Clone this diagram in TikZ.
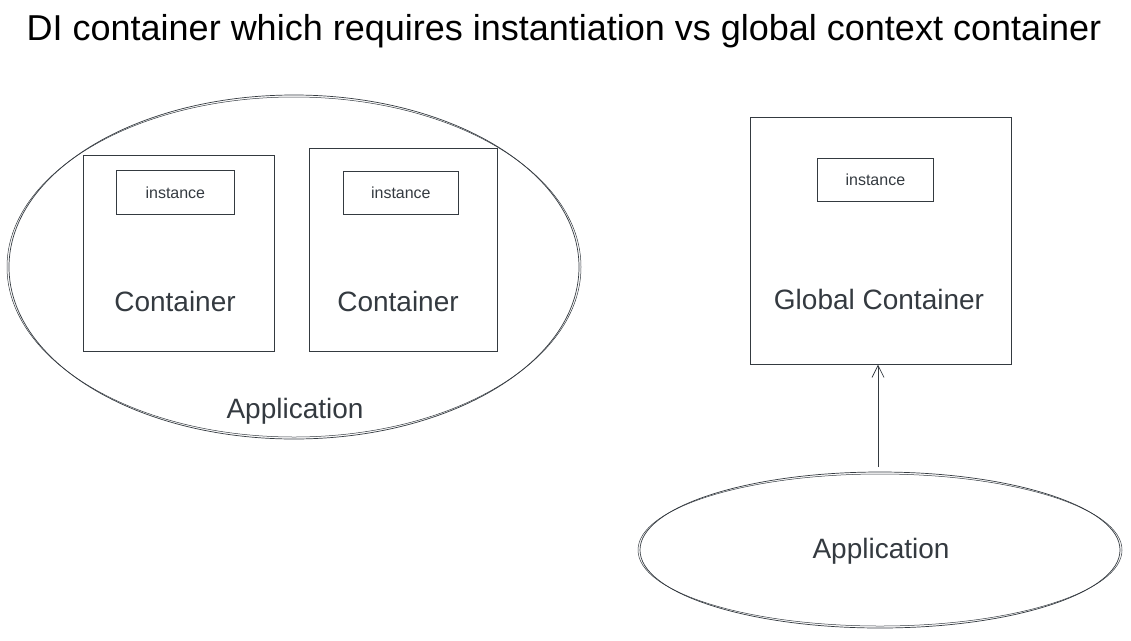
\documentclass[tikz,border=0pt]{standalone}
\usepackage{fontspec}
\setmainfont{Liberation Sans}
\usetikzlibrary{arrows.meta,shapes.geometric}
\definecolor{ink}{HTML}{343A40}
\begin{document}
\begin{tikzpicture}[x=1pt,y=-1pt,
  sk/.style={draw=ink,line width=0.7pt},
  box/.style={sk,rectangle,inner sep=0pt,anchor=north west},
  lbl/.style={text=ink,font=\fontsize{28}{32}\selectfont},
  ilbl/.style={text=ink,font=\fontsize{16}{19}\selectfont}]
\useasboundingbox (0,0) rectangle (1131,640);
\node[font=\fontsize{36}{40}\selectfont] (title) at (564,31) {DI container which requires instantiation vs global context container};
% left
\node[sk,ellipse,inner sep=0pt,minimum width=570,minimum height=344] (app1) at (294,267) {};
\draw[ink,line width=0.5pt] (294,267) ellipse [x radius=287,y radius=170];
\node[box,minimum width=191,minimum height=196] (c1) at (83,155) {};
\node[box,minimum width=188,minimum height=203] (c2) at (309,148) {};
\node[box,minimum width=118,minimum height=44] (i1) at (116,170) {};
\node[box,minimum width=115,minimum height=43] (i2) at (343,171) {};
\node[ilbl] at (i1.center) {instance};
\node[ilbl] at (i2.center) {instance};
\node[lbl] at (175,301) {Container};
\node[lbl] at (398,301) {Container};
\node[lbl] at (295,411) {Application};
% right
\node[box,minimum width=261,minimum height=247] (g) at (750,117) {};
\node[box,minimum width=116,minimum height=43] (i3) at (817,158) {};
\node[ilbl] at (i3.center) {instance};
\node[lbl] at (879,299) {Global Container};
\node[sk,ellipse,inner sep=0pt,minimum width=480,minimum height=156] (app2) at (880,550) {};
\draw[ink,line width=0.5pt] (880,550) ellipse [x radius=242,y radius=76];
\node[lbl] at (881,551) {Application};
\coordinate (s) at (878,467);
\draw[sk,-{Straight Barb[length=12pt,width=12pt]}] (s) -- (g.south -| s);
\end{tikzpicture}
\end{document}
